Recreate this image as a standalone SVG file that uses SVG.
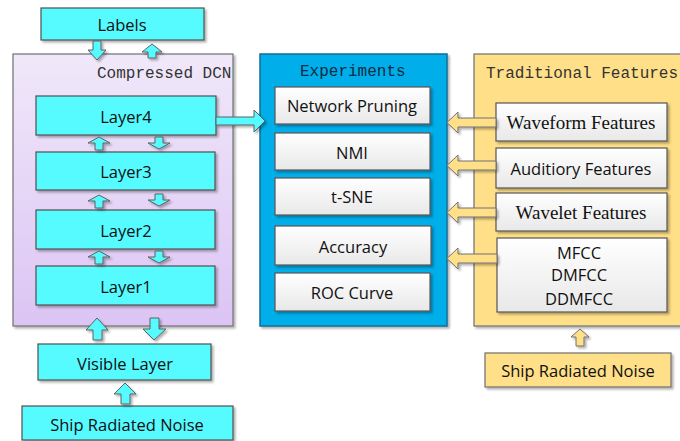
<svg xmlns="http://www.w3.org/2000/svg" width="680" height="441" viewBox="0 0 680 441">
<defs>
<linearGradient id="gPurple" x1="0" y1="0" x2="0" y2="1"><stop offset="0" stop-color="#f0e8fa"/><stop offset="1" stop-color="#dcc4f4"/></linearGradient>
<linearGradient id="gWhite" x1="0" y1="0" x2="0" y2="1"><stop offset="0" stop-color="#ffffff"/><stop offset="1" stop-color="#e8e8e8"/></linearGradient>
<filter id="sh" x="-10%" y="-10%" width="130%" height="140%"><feDropShadow dx="2" dy="2" stdDeviation="1.2" flood-color="#000" flood-opacity="0.3"/></filter>
<style>
.cy{fill:#55fbff;stroke:#505050;stroke-width:1.2}
.wb{fill:url(#gWhite);stroke:#555;stroke-width:1.2}
.yb{fill:#ffdf88;stroke:#707070;stroke-width:1.2}
.ca{fill:#55fbff;stroke:#606060;stroke-width:1}
.ya{fill:#ffdf88;stroke:#707070;stroke-width:1}
.t{font-family:"Open Sans","Noto Sans",sans-serif;font-size:16.5px;fill:#111;text-anchor:middle;dominant-baseline:central}
.s{font-family:"Liberation Serif","Times New Roman",serif;font-size:19px;fill:#111;text-anchor:middle;dominant-baseline:central}
.m{font-family:"Liberation Mono","DejaVu Sans Mono",monospace;font-size:16px;fill:#333;dominant-baseline:central}
</style>
</defs>
<g id="compressed-dcn"><rect x="13" y="54" width="220" height="272" fill="url(#gPurple)" stroke="#707070" stroke-width="1.2" filter="url(#sh)"/><text class="m" x="97" y="74">Compressed DCN</text></g>
<g id="experiments"><rect x="260" y="54" width="187" height="272" fill="#00aee9" stroke="#0b6e98" stroke-width="1.5" filter="url(#sh)"/><text class="m" x="300" y="72" style="fill:#0d2b45">Experiments</text></g>
<g id="traditional"><rect x="474" y="54" width="215" height="272" class="yb" filter="url(#sh)"/><text class="m" x="486" y="74">Traditional Features</text></g>
<g id="labels"><rect x="41" y="8" width="163" height="32" class="cy" filter="url(#sh)"/><text class="t" x="122" y="24">Labels</text></g>
<g id="layer4"><rect x="36" y="96" width="180" height="39" class="cy" filter="url(#sh)"/><text class="t" x="126" y="116">Layer4</text></g>
<g id="layer3"><rect x="36" y="152" width="179" height="38" class="cy" filter="url(#sh)"/><text class="t" x="126" y="171">Layer3</text></g>
<g id="layer2"><rect x="36" y="210" width="179" height="39" class="cy" filter="url(#sh)"/><text class="t" x="126" y="230">Layer2</text></g>
<g id="layer1"><rect x="36" y="266" width="179" height="39" class="cy" filter="url(#sh)"/><text class="t" x="126" y="286">Layer1</text></g>
<g id="visible"><rect x="38" y="344" width="173" height="36" class="cy" filter="url(#sh)"/><text class="t" x="125" y="363">Visible Layer</text></g>
<g id="ship-left"><rect x="22" y="406" width="211" height="34" class="cy" filter="url(#sh)"/><text class="t" x="127" y="424">Ship Radiated Noise</text></g>
<g id="pruning"><rect x="275" y="87" width="155" height="37" class="wb" filter="url(#sh)"/><text class="t" x="352" y="105">Network Pruning</text></g>
<g id="nmi"><rect x="275" y="133" width="155" height="37" class="wb" filter="url(#sh)"/><text class="t" x="352" y="152">NMI</text></g>
<g id="tsne"><rect x="275" y="178" width="155" height="37" class="wb" filter="url(#sh)"/><text class="t" x="352" y="196">t-SNE</text></g>
<g id="accuracy"><rect x="275" y="226" width="156" height="39" class="wb" filter="url(#sh)"/><text class="t" x="353" y="246">Accuracy</text></g>
<g id="roc"><rect x="275" y="273" width="155" height="38" class="wb" filter="url(#sh)"/><text class="t" x="352" y="292">ROC Curve</text></g>
<g id="waveform"><rect x="496" y="103" width="171" height="38" class="wb" filter="url(#sh)"/><text class="s" x="581" y="122">Waveform Features</text></g>
<g id="auditory"><rect x="496" y="148" width="171" height="40" class="wb" filter="url(#sh)"/><text class="t" x="581" y="168">Auditiory Features</text></g>
<g id="wavelet"><rect x="496" y="193" width="171" height="38" class="wb" filter="url(#sh)"/><text class="s" x="581" y="212">Wavelet Features</text></g>
<g id="mfcc"><rect x="497" y="238" width="170" height="74" class="wb" filter="url(#sh)"/><text class="t" x="579" y="252">MFCC</text><text class="t" x="579" y="274">DMFCC</text><text class="t" x="579" y="298">DDMFCC</text></g>
<g id="ship-right"><rect x="485" y="353" width="186" height="34" class="yb" filter="url(#sh)"/><text class="t" x="578" y="370">Ship Radiated Noise</text></g>
<g id="connectors" filter="url(#sh)">
<path class="ca" d="M93,41 H101 V50 H106 L97,60 L88,50 H93 Z"/>
<path class="ca" d="M148,58 H156 V52 H162 L152,44 L142,52 H148 Z"/>
<path class="ca" d="M95,150 H103 V143 H110 L99,137 L88,143 H95 Z"/>
<path class="ca" d="M155,137 H163 V143 H170 L159,149 L148,143 H155 Z"/>
<path class="ca" d="M95,208 H103 V201 H110 L99,195 L88,201 H95 Z"/>
<path class="ca" d="M155,194 H163 V200 H170 L159,206 L148,200 H155 Z"/>
<path class="ca" d="M95,264 H103 V257 H110 L99,251 L88,257 H95 Z"/>
<path class="ca" d="M155,251 H163 V257 H170 L159,263 L148,257 H155 Z"/>
<path class="ca" d="M93,340 H102 V330 H108 L97,318 L86,330 H93 Z"/>
<path class="ca" d="M150,318 H159 V329 H166 L154,340 L143,329 H150 Z"/>
<path class="ca" d="M121,404 H130 V394 H136 L125,383 L114,394 H121 Z"/>
<path class="ca" d="M216,117 H254 V110 L265,121 L254,132 V125 H216 Z"/>
<path class="ya" d="M496,118 H458 V112 L447,122.5 L458,133 V127 H496 Z"/>
<path class="ya" d="M496,161 H458 V155 L447,165.5 L458,176 V170 H496 Z"/>
<path class="ya" d="M496,208 H458 V202 L447,212.5 L458,223 V217 H496 Z"/>
<path class="ya" d="M497,254 H458 V248 L447,258.5 L458,269 V263 H497 Z"/>
<path class="ya" d="M576,346 H584 V337 H589 L580,329 L571,337 H576 Z"/>
</g>
</svg>
